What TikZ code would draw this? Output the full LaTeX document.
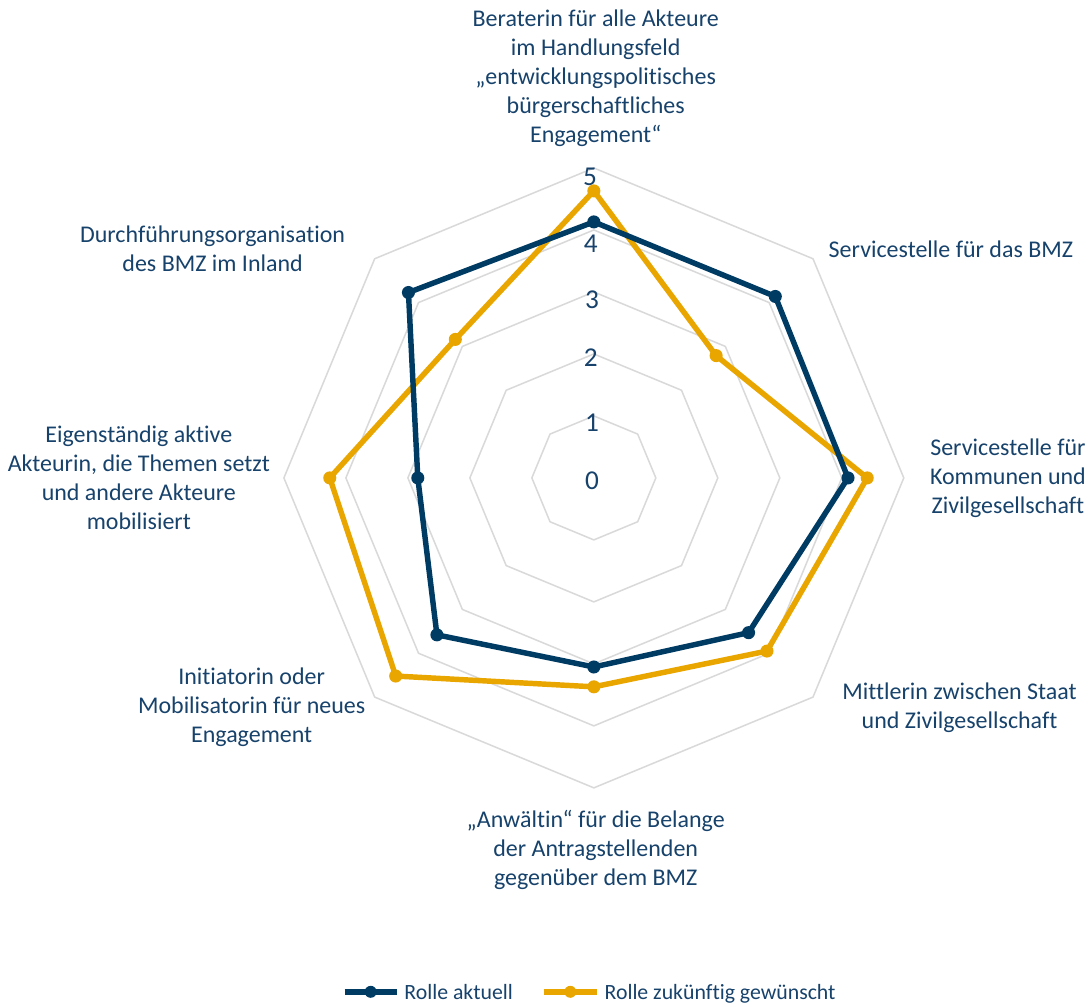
\documentclass[tikz,border=0pt]{standalone}
\usepackage{fontspec}
\setmainfont{Carlito}[Ligatures=NoCommon]
\usetikzlibrary{positioning}

\definecolor{navy}{HTML}{003B64}
\definecolor{gold}{HTML}{E9A500}
\definecolor{labelblue}{HTML}{17426B}
\definecolor{ringgray}{HTML}{D9D9D9}

\begin{document}
\begin{tikzpicture}[
    ring/.style={ringgray, line width=0.7pt},
    now/.style={navy, line width=2.5pt, line join=round},
    wish/.style={gold, line width=2.5pt, line join=round},
    ticklabel/.style={labelblue, font=\fontsize{12.5}{15}\selectfont},
    catlabel/.style={labelblue, align=center, font=\fontsize{11}{13.3}\selectfont},
    legendtext/.style={labelblue, font=\fontsize{10}{12}\selectfont},
    legenddot/.style={circle, inner sep=0pt, minimum size=5.5pt},
]
    \useasboundingbox (-9.58,-8.52) rectangle (8.02,7.71);

    % rings
    \draw[ring] (90:1) -- (45:1) -- (0:1) -- (-45:1) -- (-90:1) -- (-135:1) -- (180:1) -- (135:1) -- cycle;
    \draw[ring] (90:2) -- (45:2) -- (0:2) -- (-45:2) -- (-90:2) -- (-135:2) -- (180:2) -- (135:2) -- cycle;
    \draw[ring] (90:3) -- (45:3) -- (0:3) -- (-45:3) -- (-90:3) -- (-135:3) -- (180:3) -- (135:3) -- cycle;
    \draw[ring] (90:4) -- (45:4) -- (0:4) -- (-45:4) -- (-90:4) -- (-135:4) -- (180:4) -- (135:4) -- cycle;
    \draw[ring] (90:5) -- (45:5) -- (0:5) -- (-45:5) -- (-90:5) -- (-135:5) -- (180:5) -- (135:5) -- cycle;

    % scale
    \node[ticklabel] (t0) at (-0.03,-0.05) {0};
    \node[ticklabel] (t1) at (-0.03,0.89) {1};
    \node[ticklabel] (t2) at (-0.05,1.94) {2};
    \node[ticklabel] (t3) at (-0.03,2.87) {3};
    \node[ticklabel] (t4) at (-0.05,3.78) {4};
    \node[ticklabel] (t5) at (-0.06,4.85) {5};

    % wished role
    \draw[wish] (90:4.63) -- (45:2.79) -- (0:4.41) -- (-45:3.95) -- (-90:3.37) -- (-135:4.52) -- (180:4.26) -- (135:3.16) -- cycle;
    \fill[gold] (90:4.63) circle (3pt) (45:2.79) circle (3pt) (0:4.41) circle (3pt) (-45:3.95) circle (3pt)
        (-90:3.37) circle (3pt) (-135:4.52) circle (3pt) (180:4.26) circle (3pt) (135:3.16) circle (3pt);

    % current role
    \draw[now] (90:4.13) -- (45:4.14) -- (0:4.10) -- (-45:3.53) -- (-90:3.05) -- (-135:3.58) -- (180:2.84) -- (135:4.23) -- cycle;
    \fill[navy] (90:4.13) circle (3pt) (45:4.14) circle (3pt) (0:4.10) circle (3pt) (-45:3.53) circle (3pt)
        (-90:3.05) circle (3pt) (-135:3.58) circle (3pt) (180:2.84) circle (3pt) (135:4.23) circle (3pt);

    % categories
    \node[catlabel] (berater) at (0.03,6.45) {Beraterin für alle Akteure\\im Handlungsfeld\\„entwicklungspolitisches\\bürgerschaftliches\\Engagement“};
    \node[catlabel] (bmz) at (5.76,3.69) {Servicestelle für das BMZ};
    \node[catlabel] (kommunen) at (6.68,0) {Servicestelle für\\Kommunen und\\Zivilgesellschaft};
    \node[catlabel] (mittler) at (5.90,-3.70) {Mittlerin zwischen Staat\\und Zivilgesellschaft};
    \node[catlabel] (anwalt) at (0.03,-6.0) {„Anwältin“ für die Belange\\der Antragstellenden\\gegenüber dem BMZ};
    \node[catlabel] (initiator) at (-5.52,-3.70) {Initiatorin oder\\Mobilisatorin für neues\\Engagement};
    \node[catlabel] (eigen) at (-7.34,0) {Eigenständig aktive\\Akteurin, die Themen setzt\\und andere Akteure\\mobilisiert};
    \node[catlabel] (durchf) at (-6.15,3.69) {Durchführungsorganisation\\des BMZ im Inland};

    % legend
    \coordinate (nowa) at (-4.02,-8.29);
    \coordinate (nowb) at (-3.18,-8.29);
    \draw[now] (nowa) -- (nowb) node[midway, legenddot, fill=navy] (nowdot) {};
    \node[legendtext, right=0pt of nowb] (nowtext) {Rolle aktuell};

    \coordinate (wisha) at (-0.81,-8.29);
    \coordinate (wishb) at (0.05,-8.29);
    \draw[wish] (wisha) -- (wishb) node[midway, legenddot, fill=gold] (wishdot) {};
    \node[legendtext, right=0pt of wishb, text depth=0pt] (wishtext) {Rolle zukünftig gewünscht};

\end{tikzpicture}
\end{document}
